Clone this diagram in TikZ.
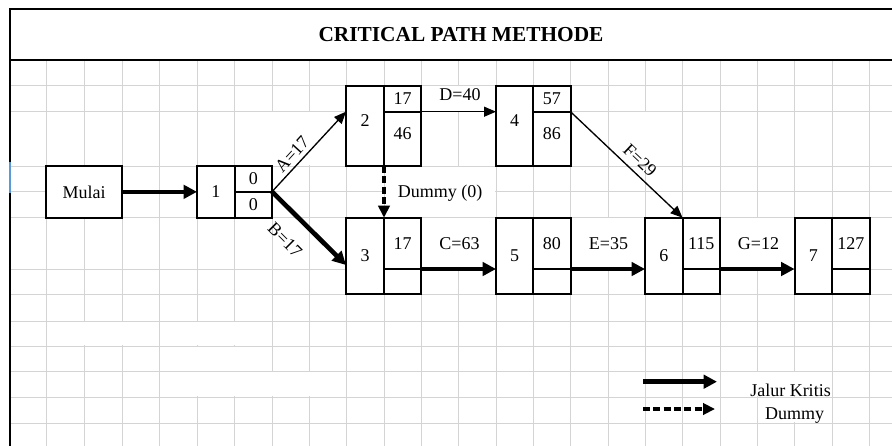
\documentclass[tikz,border=0pt]{standalone}
\usepackage{fontspec}
\setmainfont{Liberation Serif}
\usetikzlibrary{arrows.meta,calc}
\definecolor{gridgray}{RGB}{212,212,212}
\definecolor{selblue}{RGB}{91,155,213}
\newcommand{\raisetxt}[1]{\raisebox{3.75pt}[\height][0pt]{#1}}
\newcommand{\mergecell}[4]{\fill[white] ($(#1,#2)+(0.6,0.6)$) rectangle ($(#3,#4)-(0.6,0.6)$);}
\begin{document}
\begin{tikzpicture}[x=0.75pt,y=-0.75pt,
  every node/.style={font=\fontsize{13.5}{15}\selectfont, inner sep=0pt},
  gridline/.style={draw=gridgray, line width=0.75pt},
  frameline/.style={line width=1.5pt, line cap=rect},
  cellbox/.style={draw, line width=1.5pt, fill=white, inner sep=0pt, outer sep=0pt},
  crit/.style={line width=3.5pt, -{Triangle[length=10pt,width=10pt]}},
  actarrow/.style={line width=1pt, -{Triangle[length=9pt,width=7.5pt]}},
  dummyarrow/.style={line width=2.4pt, dash pattern=on 5.25pt off 2.5pt, -{Triangle[length=9pt,width=8.5pt]}},
  titlefont/.style={font=\bfseries\fontsize{16}{18}\selectfont}
]
\useasboundingbox (0,0) rectangle (892,446);
\fill[white] (0,0) rectangle (892,446);

% spreadsheet grid
\foreach \y in {85.7,111.7,166,191.7,217.7,269,294.3,321,346,371.5,397,423}
  \draw[gridline] (10,\y) -- (892,\y);
\foreach \x in {46,84.5,122,159.5,197,234.5,272,309,346,384,421,458.5,496,533,570.5,608,645,682.5,720,757,794.5,832,869.5}
  \draw[gridline] (\x,60) -- (\x,446);

% merged cells
\mergecell{234.5}{111.7}{346}{166}
\mergecell{384}{166}{496}{217.7}
\mergecell{421}{85.7}{496}{111.7}
\mergecell{421}{217.7}{496}{269}
\mergecell{570.5}{217.7}{645}{269}
\mergecell{720}{217.7}{794.5}{269}
\mergecell{608}{111.7}{682.5}{166}
\mergecell{46}{321}{159.5}{346}
\mergecell{159.5}{321}{272}{346}
\mergecell{159.5}{346}{272}{371.5}
\mergecell{159.5}{371.5}{346}{397}
\mergecell{720}{371.5}{832}{397}
\mergecell{757}{397}{832}{423}

% frame
\draw[frameline] (10,446) -- (10,8.7) -- (892,8.7);
\draw[frameline] (10,60) -- (892,60);
\draw[selblue, line width=1.5pt] (10,162) -- (10,193);

\node[titlefont] (title) at (461,35) {CRITICAL PATH METHODE};

% nodes
\node[cellbox, minimum width=57pt, minimum height=38.775pt] (mulai) at (84,191.85) {Mulai};

\node[cellbox, minimum width=28.125pt, minimum height=38.775pt] (n1) at (215.75,191.85) {1};
\node[cellbox, minimum width=28.125pt, minimum height=19.275pt] (n1t) at (253.25,178.85) {0};
\node[cellbox, minimum width=28.125pt, minimum height=19.5pt] (n1b) at (253.25,204.7) {0};

\node[cellbox, minimum width=28.5pt, minimum height=60.225pt] (n2) at (365,125.85) {\raisetxt{2}};
\node[cellbox, minimum width=27.75pt, minimum height=19.5pt] (n2t) at (402.5,98.7) {17};
\node[cellbox, minimum width=27.75pt, minimum height=40.725pt] (n2b) at (402.5,138.85) {\raisetxt{46}};

\node[cellbox, minimum width=27.75pt, minimum height=60.225pt] (n4) at (514.5,125.85) {\raisetxt{4}};
\node[cellbox, minimum width=28.125pt, minimum height=19.5pt] (n4t) at (551.75,98.7) {57};
\node[cellbox, minimum width=28.125pt, minimum height=40.725pt] (n4b) at (551.75,138.85) {\raisetxt{86}};

\node[cellbox, minimum width=28.5pt, minimum height=57.45pt] (n3) at (365,256) {3};
\node[cellbox, minimum width=27.75pt, minimum height=38.475pt] (n3t) at (402.5,243.35) {17};
\node[cellbox, minimum width=27.75pt, minimum height=18.975pt] (n3b) at (402.5,281.65) {};

\node[cellbox, minimum width=27.75pt, minimum height=57.45pt] (n5) at (514.5,256) {5};
\node[cellbox, minimum width=28.125pt, minimum height=38.475pt] (n5t) at (551.75,243.35) {80};
\node[cellbox, minimum width=28.125pt, minimum height=18.975pt] (n5b) at (551.75,281.65) {};

\node[cellbox, minimum width=28.125pt, minimum height=57.45pt] (n6) at (663.75,256) {6};
\node[cellbox, minimum width=28.125pt, minimum height=38.475pt] (n6t) at (701.25,243.35) {115};
\node[cellbox, minimum width=28.125pt, minimum height=18.975pt] (n6b) at (701.25,281.65) {};

\node[cellbox, minimum width=28.125pt, minimum height=57.45pt] (n7) at (813.25,256) {7};
\node[cellbox, minimum width=28.125pt, minimum height=38.475pt] (n7t) at (850.75,243.35) {127};
\node[cellbox, minimum width=28.125pt, minimum height=18.975pt] (n7b) at (850.75,281.65) {};

% connectors
\coordinate (b3) at ($(n3.west |- n3t.south)+(0,-4)$);
\draw[crit] (mulai.east) -- (n1.west);
\draw[actarrow] (n1t.south east) -- (n2.west |- n2t.south);
\draw[crit] (n1t.south east) -- (b3);
\draw[actarrow] (n2t.south east) -- (n4.west |- n2t.south);
\draw[dummyarrow] (n2.south east) -- (n3.north east);
\draw[actarrow] (n4t.south east) -- (n6.north east);
\draw[crit] (n3t.south east) -- (n5.west |- n3t.south);
\draw[crit] (n5t.south east) -- (n6.west |- n5t.south);
\draw[crit] (n6t.south east) -- (n7.west |- n6t.south);

% labels
\node[rotate=47.6] (lA) at (292,154) {A=17};
\node[rotate=-45] (lB) at (285,240) {B=17};
\node[rotate=-43.4] (lF) at (640,160) {F=29};
\node (lD) at (460,95) {D=40};
\node (lDum) at (440,193) {Dummy (0)};
\node (lC) at (459.5,243.5) {C=63};
\node (lE) at (608.5,243.5) {E=35};
\node (lG) at (758.5,243.5) {G=12};

% legend
\coordinate (lgA1) at (643,381.7);
\coordinate (lgA2) at (717,381.7);
\coordinate (lgB1) at (643,409);
\coordinate (lgB2) at (715,409);
\draw[crit, line width=4pt] (lgA1) -- (lgA2);
\draw[dummyarrow] (lgB1) -- (lgB2);
\node (lgJ) at (790.5,390) {Jalur Kritis};
\node (lgD) at (794.5,415.5) {Dummy};
\end{tikzpicture}
\end{document}
